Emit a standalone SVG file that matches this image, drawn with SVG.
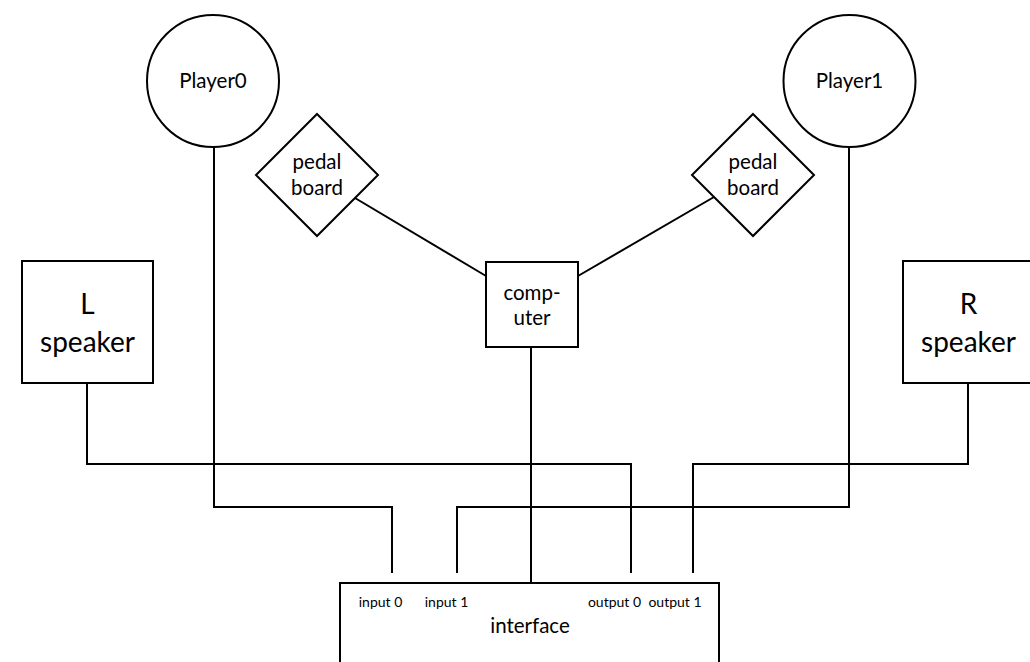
<svg xmlns="http://www.w3.org/2000/svg" width="1030" height="662" viewBox="0 0 1030 662">
  <style>
    .shape { fill: #ffffff; stroke: #000000; stroke-width: 2; }
    .wire { fill: none; stroke: #000000; stroke-width: 2; }
    text { font-family: Lato, "Open Sans", "Liberation Sans", sans-serif; fill: #000000; text-anchor: middle; }
    .mid { font-size: 20.5px; }
    .big { font-size: 28px; }
    .small { font-size: 14px; }
  </style>

  <!-- wiring between devices -->
  <g id="connectors">
    <line class="wire" x1="355" y1="198" x2="486" y2="276"/>
    <line class="wire" x1="714" y1="197" x2="578" y2="276"/>
    <line class="wire" x1="531" y1="347" x2="531" y2="583"/>
    <polyline class="wire" points="87,383 87,464 631,464 631,573"/>
    <polyline class="wire" points="968,383 968,464 693,464 693,573"/>
    <polyline class="wire" points="214,147 214,507 392,507 392,573"/>
    <polyline class="wire" points="849,147 849,507 457,507 457,573"/>
  </g>

  <g id="player0">
    <circle class="shape" cx="213" cy="81" r="66"/>
    <text class="mid" x="213" y="88">Player0</text>
  </g>

  <g id="player1">
    <circle class="shape" cx="849.5" cy="81" r="66"/>
    <text class="mid" x="849.5" y="88">Player1</text>
  </g>

  <g id="pedalboard0">
    <polygon class="shape" points="317,114 378,175 317,236 256,175"/>
    <text class="mid" x="317" y="169">pedal</text>
    <text class="mid" x="317" y="195">board</text>
  </g>

  <g id="pedalboard1">
    <polygon class="shape" points="753,114 814,175 753,236 692,175"/>
    <text class="mid" x="753" y="169">pedal</text>
    <text class="mid" x="753" y="195">board</text>
  </g>

  <g id="computer">
    <rect class="shape" x="486" y="262" width="92" height="85"/>
    <text class="mid" x="532" y="300">comp-</text>
    <text class="mid" x="532" y="325">uter</text>
  </g>

  <g id="speakerL">
    <rect class="shape" x="22" y="261" width="131" height="122"/>
    <text class="big" x="87.5" y="314">L</text>
    <text class="big" x="87.5" y="352">speaker</text>
  </g>

  <g id="speakerR">
    <rect class="shape" x="903" y="261" width="131" height="122"/>
    <text class="big" x="968.5" y="314">R</text>
    <text class="big" x="968.5" y="352">speaker</text>
  </g>

  <g id="interface">
    <rect class="shape" x="340" y="583" width="379" height="100"/>
    <text class="small" x="380.5" y="607">input 0</text>
    <text class="small" x="446.5" y="607">input 1</text>
    <text class="small" x="614.5" y="607">output 0</text>
    <text class="small" x="675" y="607">output 1</text>
    <text class="mid" x="530" y="633">interface</text>
  </g>
</svg>
